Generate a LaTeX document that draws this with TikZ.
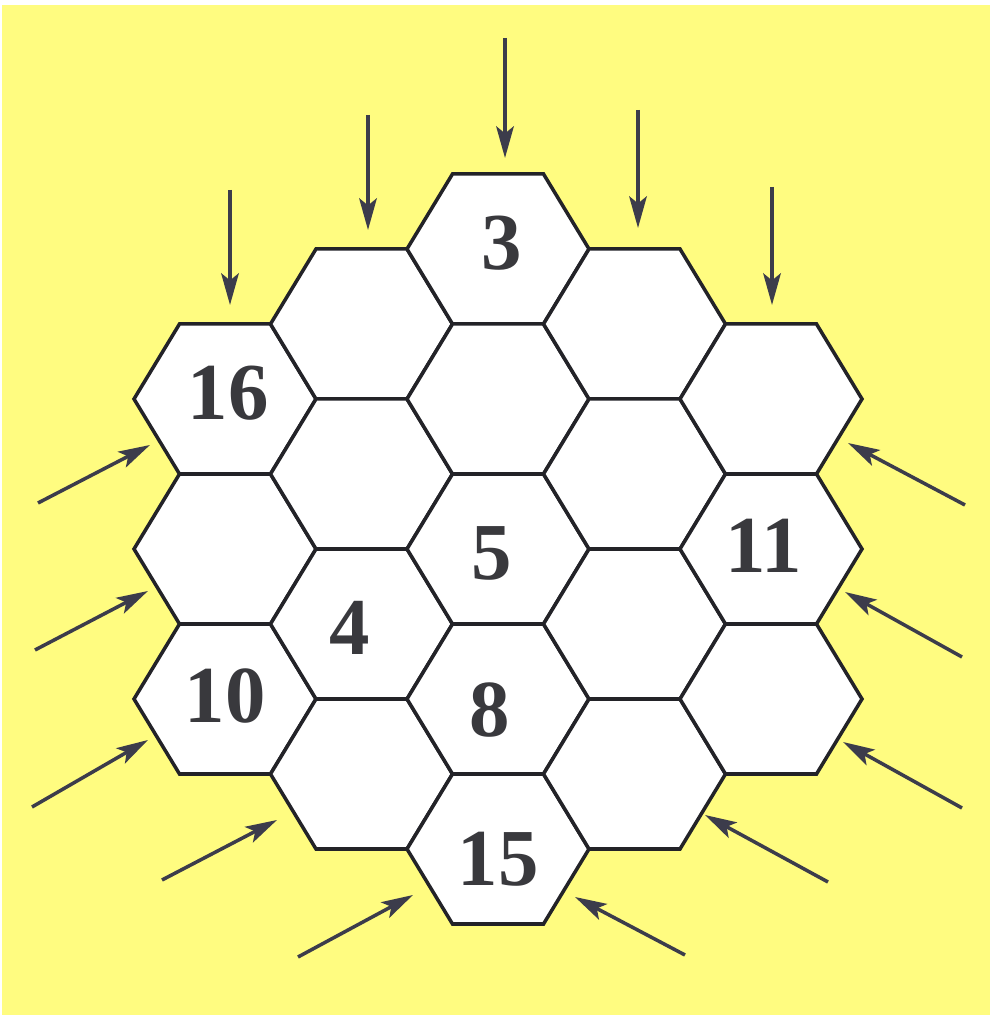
\documentclass[tikz,border=0pt]{standalone}
\usepackage{fontspec}
\setmainfont{Liberation Serif}
\usetikzlibrary{arrows.meta}

\definecolor{paper}{RGB}{255,252,128}
\definecolor{inkline}{RGB}{35,35,40}
\definecolor{inkarrow}{RGB}{60,60,75}

\tikzset{
    hexcell/.style={draw=inkline, line width=2pt, fill=white, line join=miter},
    feed/.style={draw=inkarrow, line width=2pt, -{Stealth[length=18pt,width=10pt,inset=4pt]}},
    num/.style={font=\fontsize{46}{46}\selectfont\bfseries, text=inkline!90!white, inner sep=0pt}
}

\begin{document}
\begin{tikzpicture}
    \useasboundingbox (0,0) rectangle (19.84,20.38);
    \fill[paper] (0.04,0.08) rectangle (19.80,20.28);

    % board: five columns of cells
    \foreach \c/\n/\top in {0/3/12.4, 1/4/13.9, 2/5/15.4, 3/4/13.9, 4/3/12.4} {
        \foreach \r in {1,...,\n} {
            \coordinate (h-\c-\r) at ({4.5+2.73*\c}, {\top-3*(\r-1)});
            \draw[hexcell] (h-\c-\r) +(-1.82,0) -- +(-0.91,1.5) -- +(0.91,1.5)
                -- +(1.82,0) -- +(0.91,-1.5) -- +(-0.91,-1.5) -- cycle;
        }
    }

    % numbered cells
    \node[num] (n3) at ([shift={(0.07,0.11)}]h-2-1) {3};
    \node[num] (n16) at ([shift={(0.06,0.11)}]h-0-1) {16};
    \node[num] (n5) at ([shift={(-0.12,-0.08)}]h-2-3) {5};
    \node[num] (n4) at ([shift={(-0.23,-0.07)}]h-1-3) {4};
    \node[num] (n11) at ([shift={(-0.14,0.06)}]h-4-2) {11};
    \node[num] (n10) at ([shift={(0,0.06)}]h-0-3) {10};
    \node[num] (n8) at ([shift={(-0.16,-0.22)}]h-2-4) {8};
    \node[num] (n15) at ([shift={(0,-0.21)}]h-2-5) {15};

    % incoming arrows: top, left, right
    \foreach \xa/\ya/\xb/\yb in {4.60/16.58/4.60/14.28, 7.36/18.08/7.36/15.78,
        10.10/19.62/10.10/17.22, 12.76/18.18/12.76/15.82, 15.44/16.64/15.44/14.28}
        \draw[feed] (\xa,\ya) -- (\xb,\yb);
    \foreach \xa/\ya/\xb/\yb in {0.76/10.32/3.00/11.48, 0.70/7.38/2.96/8.56,
        0.64/4.24/2.96/5.58, 3.24/2.78/5.54/3.98, 5.96/1.24/8.26/2.48}
        \draw[feed] (\xa,\ya) -- (\xb,\yb);
    \foreach \xa/\ya/\xb/\yb in {19.30/10.28/16.96/11.52, 19.24/7.24/16.90/8.54,
        19.24/4.22/16.86/5.54, 16.56/2.74/14.10/4.08, 13.70/1.28/11.50/2.44}
        \draw[feed] (\xa,\ya) -- (\xb,\yb);
\end{tikzpicture}
\end{document}
